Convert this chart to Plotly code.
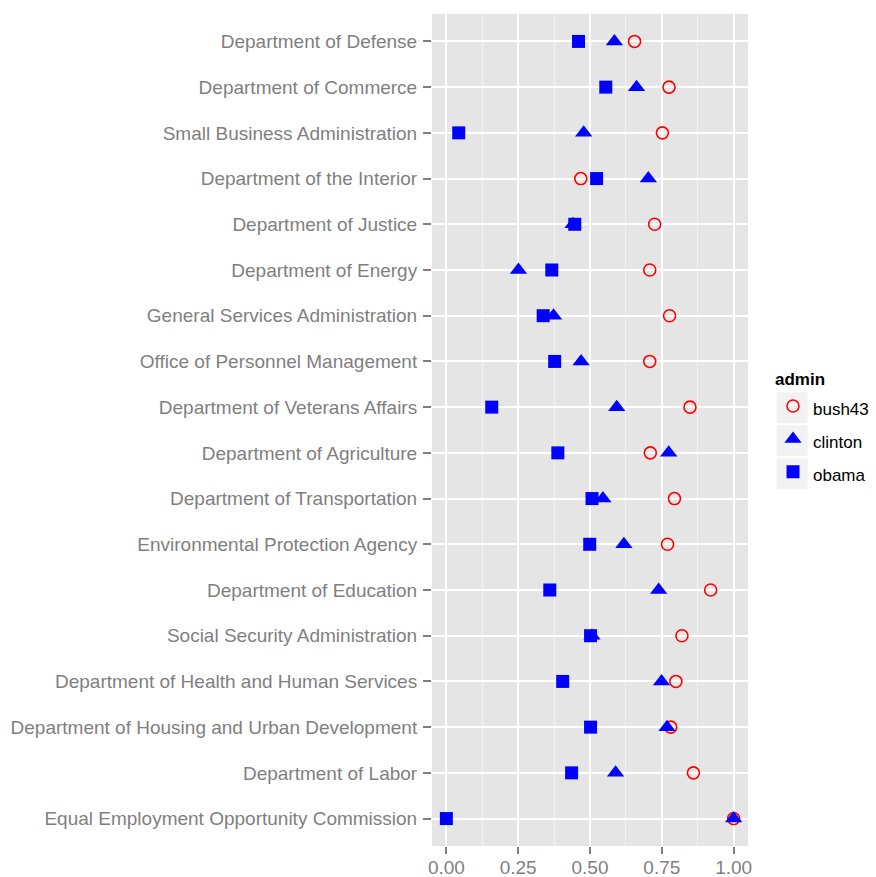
import plotly.graph_objects as go

agencies = [
    "Department of Defense",
    "Department of Commerce",
    "Small Business Administration",
    "Department of the Interior",
    "Department of Justice",
    "Department of Energy",
    "General Services Administration",
    "Office of Personnel Management",
    "Department of Veterans Affairs",
    "Department of Agriculture",
    "Department of Transportation",
    "Environmental Protection Agency",
    "Department of Education",
    "Social Security Administration",
    "Department of Health and Human Services",
    "Department of Housing and Urban Development",
    "Department of Labor",
    "Equal Employment Opportunity Commission",
]

bush43 = [0.655, 0.775, 0.752, 0.468, 0.725, 0.708, 0.777, 0.708, 0.848, 0.710,
          0.794, 0.770, 0.920, 0.820, 0.799, 0.781, 0.860, 1.000]
clinton = [0.585, 0.662, 0.478, 0.703, 0.441, 0.251, 0.373, 0.469, 0.593, 0.774,
           0.545, 0.618, 0.739, 0.507, 0.749, 0.768, 0.589, 1.000]
obama = [0.460, 0.555, 0.043, 0.523, 0.447, 0.367, 0.337, 0.377, 0.158, 0.388,
         0.507, 0.499, 0.360, 0.502, 0.405, 0.502, 0.436, 0.000]

series_names = ["bush43", "clinton", "obama"]

x_ticks = [0, 0.25, 0.5, 0.75, 1.0]
x_tick_labels = ["0.00", "0.25", "0.50", "0.75", "1.00"]


def legend_label(s):
    return '<span style="font-size:17px">' + s + '</span>'


fig = go.Figure()
fig.add_trace(go.Scatter(
    x=bush43, y=agencies, mode="markers", name=legend_label(series_names[0]),
    marker=dict(symbol="circle-open", size=12, color="#FF0000", line=dict(width=1.6, color="#FF0000")),
))
fig.add_trace(go.Scatter(
    x=clinton, y=agencies, mode="markers", name=legend_label(series_names[1]),
    marker=dict(symbol="triangle-up", size=15, color="#0000FF", line=dict(width=0)),
))
fig.add_trace(go.Scatter(
    x=obama, y=agencies, mode="markers", name=legend_label(series_names[2]),
    marker=dict(symbol="square", size=13, color="#0000FF", line=dict(width=0)),
))

W, H = 876, 877
L, R, T, B = 432, 128, 13.5, 30.5
pw, ph = W - L - R, H - T - B


def px_x(p):
    return (p - L) / pw


def px_y(p):
    return (H - B - p) / ph


# grey legend key backgrounds (ggplot style)
shapes = []
for top in [392.3, 425.3, 458.3]:
    shapes.append(dict(
        type="rect", xref="paper", yref="paper", layer="below",
        x0=px_x(776.7), x1=px_x(807.7), y0=px_y(top + 31), y1=px_y(top),
        fillcolor="#F2F2F2", line=dict(width=0),
    ))

fig.update_layout(
    width=W, height=H,
    margin=dict(l=L, r=R, t=T, b=B, pad=0, autoexpand=False),
    paper_bgcolor="white",
    plot_bgcolor="#E5E5E5",
    font=dict(family="Liberation Sans, Arial, sans-serif", color="#7F7F7F"),
    showlegend=True,
    shapes=shapes,
    legend=dict(
        title=dict(text="<b>admin</b>", font=dict(size=17, color="black")),
        font=dict(size=23, color="black"),
        xref="container", yref="container",
        x=773 / W, xanchor="left", y=1 - 362.5 / H, yanchor="top",
        bgcolor="rgba(0,0,0,0)",
        itemsizing="trace",
        tracegroupgap=0,
    ),
)
fig.update_xaxes(
    range=[-0.05, 1.05],
    tickvals=x_ticks, ticktext=x_tick_labels,
    tickfont=dict(size=19, color="#7F7F7F"),
    ticks="outside", ticklen=7, tickwidth=1.5, tickcolor="#7F7F7F",
    ticklabelstandoff=-3,
    showgrid=True, gridcolor="white", gridwidth=2,
    minor=dict(tickvals=[0.125, 0.375, 0.625, 0.875], showgrid=True, gridcolor="#F2F2F2", gridwidth=1, ticks=""),
    zeroline=False, showline=False, automargin=False,
)
fig.update_yaxes(
    type="category",
    categoryorder="array", categoryarray=agencies[::-1],
    range=[-0.6, len(agencies) - 0.4],
    tickfont=dict(size=19, color="#7F7F7F"),
    ticks="outside", ticklen=8, tickwidth=1.5, tickcolor="#7F7F7F",
    ticklabelstandoff=2,
    showgrid=True, gridcolor="white", gridwidth=2,
    zeroline=False, showline=False, automargin=False,
)

fig.write_html(
    "out.html",
    config={"displayModeBar": False},
    post_script="document.body.style.margin='0';document.body.style.overflow='hidden';",
)
